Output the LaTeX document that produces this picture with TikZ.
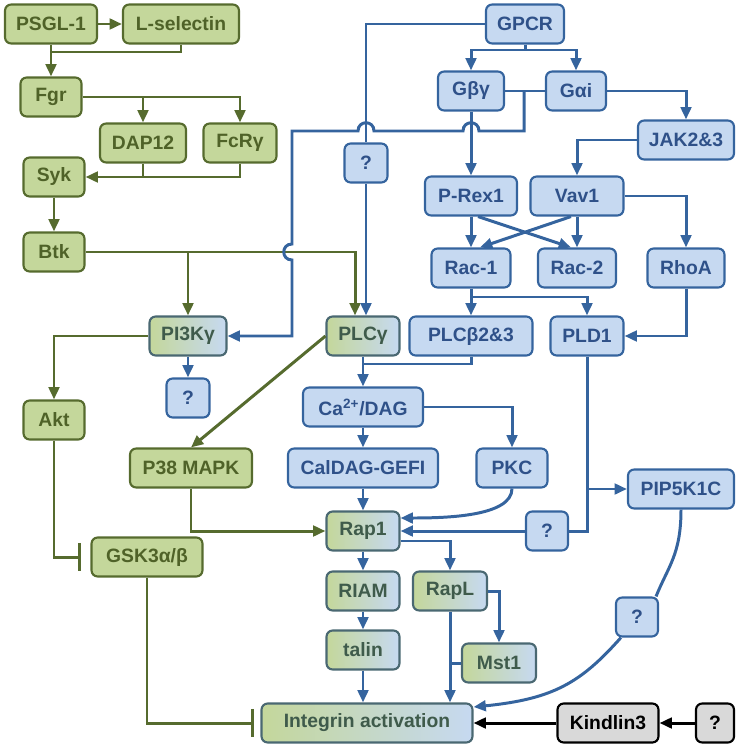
\documentclass[tikz,border=0pt]{standalone}
\usepackage{fontspec}
\setmainfont{Liberation Sans}
\usetikzlibrary{arrows.meta}

\definecolor{greenfill}{HTML}{C4D79B}
\definecolor{greendark}{HTML}{566B2E}
\definecolor{greentext}{HTML}{4F6228}
\definecolor{bluefill}{HTML}{C6D9F1}
\definecolor{bluedark}{HTML}{35649E}
\definecolor{bluetext}{HTML}{2F5189}
\definecolor{mixtext}{HTML}{3F5B4B}
\definecolor{mixdark}{HTML}{4A6872}
\definecolor{grayfill}{HTML}{D9D9D9}

\begin{document}
\begin{tikzpicture}[x=0.02cm, y=-0.02cm, >={Triangle[length=7pt,width=6pt]},
    font=\fontsize{11}{13}\selectfont\bfseries,
    box/.style={rounded corners=3.5pt, line width=1.2pt, minimum height=0.78cm, inner sep=2pt},
    gbox/.style={box, draw=greendark, fill=greenfill, text=greentext},
    bbox/.style={box, draw=bluedark, fill=bluefill, text=bluetext},
    mbox/.style={box, draw=mixdark, left color=greenfill, right color=bluefill, text=mixtext},
    kbox/.style={box, draw=black, fill=grayfill, text=black},
    gline/.style={draw=greendark, line width=1.7pt},
    garrow/.style={gline, ->},
    ginhib/.style={gline, -{Bar[width=16pt]}},
    bline/.style={draw=bluedark, line width=1.7pt},
    barrow/.style={bline, ->},
    karrow/.style={draw=black, line width=1.7pt, ->}]
    \useasboundingbox (0,0) rectangle (742,750);
    \node[gbox, minimum width=1.84cm] (psgl) at (51,24) {PSGL-1};
    \node[gbox, minimum width=2.32cm] (lsel) at (181,24) {L-selectin};
    \node[gbox, minimum width=1.22cm] (fgr) at (51,97) {Fgr};
    \node[gbox, minimum width=1.72cm] (dap) at (143,143) {DAP12};
    \node[gbox, minimum width=1.46cm] (fcr) at (240,143) {FcRγ};
    \node[gbox, minimum width=1.22cm] (syk) at (54,177) {Syk};
    \node[gbox, minimum width=1.22cm] (btk) at (54,252) {Btk};
    \node[mbox, minimum width=1.54cm] (pi3k) at (188,336) {PI3Kγ};
    \node[bbox, minimum width=0.86cm] (qpi) at (188,398) {?};
    \node[gbox, minimum width=1.22cm] (akt) at (54,420) {Akt};
    \node[gbox, minimum width=2.44cm] (p38) at (191,468) {P38 MAPK};
    \node[mbox, minimum width=1.46cm] (plcg) at (363,336) {PLCγ};
    \node[gbox, minimum width=2.22cm] (gsk) at (147,557) {GSK3α/β};
    \node[mbox, minimum width=4.22cm] (integ) at (367,723) {Integrin activation};
    \node[kbox, minimum width=2.02cm] (kind) at (608,723) {Kindlin3};
    \node[kbox, minimum width=0.76cm] (qk) at (715,723) {?};
    \node[mbox, minimum width=1.46cm] (rap1) at (363,531) {Rap1};
    \node[mbox, minimum width=1.46cm] (riam) at (363,591) {RIAM};
    \node[mbox, minimum width=1.46cm] (talin) at (363,650) {talin};
    \node[mbox, minimum width=1.48cm] (rapl) at (450,591) {RapL};
    \node[mbox, minimum width=1.48cm] (mst) at (499,663) {Mst1};
    \node[bbox, minimum width=1.56cm] (gpcr) at (525,24) {GPCR};
    \node[bbox, minimum width=1.32cm] (gby) at (471,91) {Gβγ};
    \node[bbox, minimum width=1.20cm] (gai) at (576,91) {Gαi};
    \node[bbox, minimum width=1.92cm] (jak) at (686,140) {JAK2\&3};
    \node[bbox, minimum width=0.86cm] (qg) at (366,163) {?};
    \node[bbox, minimum width=1.84cm] (prex) at (471,196) {P-Rex1};
    \node[bbox, minimum width=1.86cm] (vav) at (577,196) {Vav1};
    \node[bbox, minimum width=1.58cm] (rac1) at (471,268) {Rac-1};
    \node[bbox, minimum width=1.56cm] (rac2) at (577,268) {Rac-2};
    \node[bbox, minimum width=1.54cm] (rhoa) at (686,268) {RhoA};
    \node[bbox, minimum width=2.46cm] (plcb) at (471,336) {PLCβ2\&3};
    \node[bbox, minimum width=1.46cm] (pld) at (587,336) {PLD1};
    \node[bbox, minimum width=2.40cm] (cadag) at (363,407) {Ca\textsuperscript{2+}/DAG};
    \node[bbox, minimum width=3.00cm] (caldag) at (363,468) {CalDAG-GEFI};
    \node[bbox, minimum width=1.42cm] (pkc) at (512,468) {PKC};
    \node[bbox, minimum width=2.12cm] (pip) at (681,489) {PIP5K1C};
    \node[bbox, minimum width=0.84cm] (qr) at (547,531) {?};
    \node[bbox, minimum width=0.84cm] (ql) at (637,617) {?};
    \coordinate (psj) at (51,52);
    \coordinate (gs) at (525,50);
    \coordinate (gj) at (524,91);
    \coordinate (rj) at (471,297);
    \coordinate (cj) at (363,364);
    \draw[garrow] (psgl) -- (lsel);
    \draw[garrow] (psgl) -- (fgr);
    \draw[gline] (lsel.south) |- (psj);
    \draw[garrow] (fgr.east) -| (fcr.north);
    \draw[garrow] (fgr.east -| dap.north) -- (dap.north);
    \draw[garrow] (fcr.south) |- (syk.east);
    \draw[gline] (dap.south) -- (dap.south |- syk.east);
    \draw[garrow] (syk) -- (btk);
    \draw[garrow] (btk.east) -| ([xshift=-0.16cm]plcg.north);
    \draw[garrow] (btk.east -| pi3k.north) -- (pi3k.north);
    \draw[garrow] (pi3k.west) -| (akt.north);
    \draw[ginhib] (akt.south) |- ([xshift=-0.18cm]gsk.west);
    \draw[garrow] (plcg.west) -- (p38.north);
    \draw[garrow] (p38.south) |- (rap1.west);
    \draw[ginhib] (gsk.south) |- ([xshift=-0.12cm]integ.west);
    \draw[bline] (gpcr.west) -| (qg.north);
    \draw[bline] (gpcr.south) -- (gs);
    \draw[barrow] (gs) -| (gby.north);
    \draw[barrow] (gs) -| (gai.north);
    \draw[bline] (gby) -- (gai);
    \draw[barrow] (gj) -- (524,131) -- (479,131) .. controls (479,120) and (463,120) .. (463,131)
        -- (374,131) .. controls (374,120) and (358,120) .. (358,131) -| (292,244)
        .. controls (281,244) and (281,260) .. (292,260) |- (pi3k.east);
    \draw[barrow] (gby) -- (prex);
    \draw[barrow] (gai.east) -| (jak.north);
    \draw[barrow] (jak.west) -| (vav.north);
    \draw[barrow] (prex) -- (rac1);
    \draw[barrow] (vav) -- (rac2);
    \draw[barrow] ([xshift=0.14cm]prex.south) -- ([xshift=-0.12cm]rac2.north);
    \draw[barrow] ([xshift=-0.12cm]vav.south) -- ([xshift=0.18cm]rac1.north);
    \draw[barrow] (vav.east) -| (rhoa.north);
    \draw[barrow] (rac1) -- (plcb);
    \draw[barrow] (rj) -| (pld.north);
    \draw[barrow] (rhoa.south) |- (pld.east);
    \draw[barrow] (qg) -- (qg |- plcg.north);
    \draw[barrow] (pi3k) -- (qpi);
    \draw[barrow] (plcg) -- (cadag);
    \draw[bline] (plcb.south) |- (cj);
    \draw[barrow] (cadag) -- (caldag);
    \draw[barrow] (cadag.east) -| (pkc.north);
    \draw[barrow] (caldag) -- (rap1);
    \draw[barrow] (pkc.south) .. controls +(0,28) and +(45,0) .. ([yshift=0.26cm]rap1.east);
    \draw[barrow] (qr) -- (rap1);
    \draw[bline] (pld.south) |- (qr.east);
    \draw[barrow] (pld.south |- pip.west) -- (pip.west);
    \draw[bline] (pip.south) .. controls +(0,45) and +(12,-30) .. ([xshift=-0.06cm]ql.north east);
    \draw[barrow] ([xshift=0.12cm]ql.south west) .. controls +(-40,45) and +(80,-8) .. ([yshift=0.32cm]integ.east);
    \draw[barrow] (rap1) -- (riam);
    \draw[barrow] (riam) -- (talin);
    \draw[barrow] (talin) -- (talin |- integ.north);
    \draw[barrow] ([yshift=-0.2cm]rap1.east) -| (rapl.north);
    \draw[barrow] (rapl) -- (rapl |- integ.north);
    \draw[barrow] (rapl.east) -| (mst.north);
    \draw[bline] (mst.west) -- (mst.west -| rapl.south);
    \draw[karrow] (kind) -- (integ);
    \draw[karrow] (qk) -- (kind);
\end{tikzpicture}
\end{document}
